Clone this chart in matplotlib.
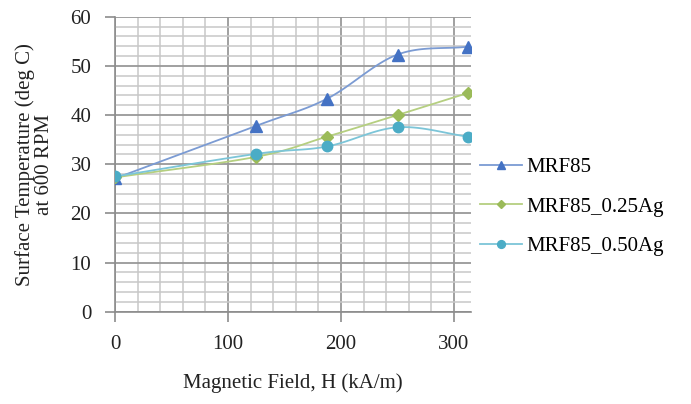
import numpy as np
import matplotlib
matplotlib.use("Agg")
import matplotlib.pyplot as plt
from matplotlib.ticker import MultipleLocator

x_field = [0, 125, 187.5, 250, 312.5]
mrf85 = [27.1, 37.8, 43.3, 52.3, 53.9]
mrf85_025 = [27.3, 31.5, 35.6, 40.0, 44.5]
mrf85_050 = [27.5, 32.1, 33.6, 37.5, 35.6]
labels = ["MRF85", "MRF85_0.25Ag", "MRF85_0.50Ag"]
x_ticks = [0, 100, 200, 300]
y_ticks = [0, 10, 20, 30, 40, 50, 60]


def smooth(xs, ys, n=30):
    # Catmull-Rom style smoothing similar to spreadsheet "smoothed line"
    xs = np.asarray(xs, float)
    ys = np.asarray(ys, float)
    px = np.concatenate([[2 * xs[0] - xs[1]], xs, [2 * xs[-1] - xs[-2]]])
    py = np.concatenate([[2 * ys[0] - ys[1]], ys, [2 * ys[-1] - ys[-2]]])
    outx, outy = [], []
    for i in range(1, len(px) - 2):
        p0, p1, p2, p3 = [np.array([px[j], py[j]]) for j in (i - 1, i, i + 1, i + 2)]
        c1 = p1 + (p2 - p0) / 6.0
        c2 = p2 - (p3 - p1) / 6.0
        t = np.linspace(0, 1, n)[:, None]
        b = ((1 - t) ** 3) * p1 + 3 * ((1 - t) ** 2) * t * c1 + 3 * (1 - t) * t ** 2 * c2 + t ** 3 * p2
        outx.extend(b[:, 0])
        outy.extend(b[:, 1])
    return outx, outy


plt.rcParams['font.family'] = ['Liberation Serif', 'DejaVu Serif']
fig = plt.figure(figsize=(6.91, 4.04), dpi=100)
ax = fig.add_axes([0.1664, 0.2285, 0.5152, 0.7302])

series = [
    (mrf85, "#4472C4", "#7b9bd3", "^", 8.5),
    (mrf85_025, "#9BBB59", "#b5cf80", "D", 6),
    (mrf85_050, "#4BACC6", "#7cc5d8", "o", 7.5),
]
handles = []
for (ys, mc, lc, m, ms), lab in zip(series, labels):
    sx, sy = smooth(x_field, ys)
    ax.plot(sx, sy, color=lc, lw=1.3, zorder=3)
    ax.plot(x_field, ys, linestyle='none', marker=m, color=mc, markersize=ms, zorder=4)
    h, = ax.plot([], [], color=lc, lw=1.3, marker=m, markerfacecolor=mc,
                 markeredgecolor=mc, markersize=ms * 0.75, label=lab)
    handles.append(h)

ax.set_xlim(0, 315)
ax.set_ylim(0, 60)
ax.set_xticks(x_ticks)
ax.set_yticks(y_ticks)
ax.xaxis.set_minor_locator(MultipleLocator(20))
ax.yaxis.set_minor_locator(MultipleLocator(2))
ax.grid(which='major', color='#999999', lw=1.3)
ax.grid(which='minor', color='#c8c8c8', lw=1.1)
ax.set_axisbelow(True)
for s in ['top', 'right']:
    ax.spines[s].set_visible(False)
for s in ['left', 'bottom']:
    ax.spines[s].set_color('#8c8c8c')
    ax.spines[s].set_linewidth(1.2)
ax.tick_params(which='major', direction='out', length=7, color='#8c8c8c', width=1.2,
               labelsize=15, pad=10, labelcolor='#222222')
ax.tick_params(which='minor', length=0)

ax.set_xlabel("Magnetic Field, H (kA/m)", fontsize=15, labelpad=14, color='#222222')
ax.set_ylabel("Surface Temperature (deg C)\nat 600 RPM", fontsize=15, labelpad=12,
              color='#222222', linespacing=1.0)

fig.legend(handles=handles, loc='center left', bbox_to_anchor=(0.695, 0.488),
           frameon=False, fontsize=15, handlelength=2.0, handletextpad=0.2,
           labelspacing=0.95, borderaxespad=0, borderpad=0)

fig.savefig("out.png", dpi=100)
